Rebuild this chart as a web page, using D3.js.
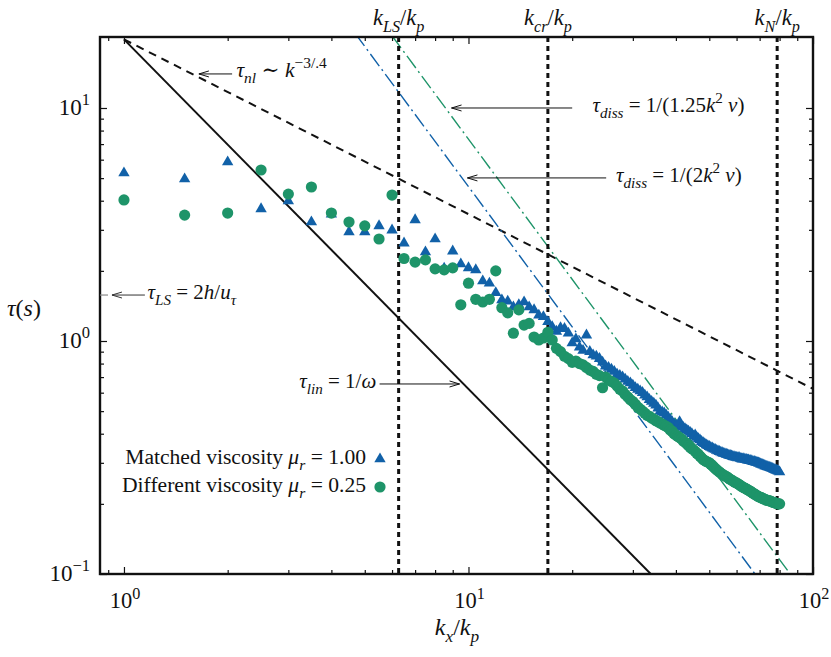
<!DOCTYPE html>
<html lang="en">
<head>
<meta charset="UTF-8">
<title>Timescales vs wavenumber</title>
<style>
  body { margin: 0; background: #fff; }
</style>
</head>
<body>
<div id="chart"></div>
<script src="https://d3js.org/d3.v7.min.js"></script>
<script>
// wavenumber k_x/k_p of every sample
const kx = [
  1, 1.5, 2, 2.5, 3, 3.5, 4, 4.5, 5, 5.5,
  6, 6.5, 7, 7.5, 8, 8.5, 9, 9.5, 10, 10.5,
  11, 11.5, 12, 12.5, 13, 13.5, 14, 14.5, 15, 15.5,
  16, 16.5, 17, 17.5, 18, 18.5, 19, 19.5, 20, 20.5,
  21, 21.5, 22, 22.5, 23, 23.5, 24, 24.5, 25, 25.5,
  26, 26.5, 27, 27.5, 28, 28.5, 29, 29.5, 30, 30.5,
  31, 31.5, 32, 32.5, 33, 33.5, 34, 34.5, 35, 35.5,
  36, 36.5, 37, 37.5, 38, 38.5, 39, 39.5, 40, 40.5,
  41, 41.5, 42, 42.5, 43, 43.5, 44, 44.5, 45, 45.5,
  46, 46.5, 47, 47.5, 48, 48.5, 49, 49.5, 50, 50.5,
  51, 51.5, 52, 52.5, 53, 53.5, 54, 54.5, 55, 55.5,
  56, 56.5, 57, 57.5, 58, 58.5, 59, 59.5, 60, 60.5,
  61, 61.5, 62, 62.5, 63, 63.5, 64, 64.5, 65, 65.5,
  66, 66.5, 67, 67.5, 68, 68.5, 69, 69.5, 70, 70.5,
  71, 71.5, 72, 72.5, 73, 73.5, 74, 74.5, 75, 75.5,
  76, 76.5, 77, 77.5, 78, 78.5, 79, 79.5, 80
];

// tau (s), matched viscosity mu_r = 1.00 (triangles)
const tauMatched = [
  5.26, 4.96, 5.86, 3.69, 3.99, 3.24, 3.50, 2.94, 2.94, 3.12,
  2.99, 2.63, 3.31, 2.41, 2.74, 2.05, 2.43, 2.14, 2.06, 2.02,
  1.81, 1.77, 1.61, 1.50, 1.48, 1.40, 1.43, 1.47, 1.40, 1.36,
  1.29, 1.27, 1.21, 1.15, 1.10, 1.14, 1.13, 1.08, 0.98, 1.02,
  0.94, 0.91, 1.06, 0.90, 0.87, 0.86, 0.84, 0.81, 0.78, 0.77,
  0.755, 0.74, 0.72, 0.71, 0.70, 0.685, 0.67, 0.66, 0.645, 0.63,
  0.62, 0.61, 0.60, 0.585, 0.575, 0.56, 0.55, 0.54, 0.53, 0.515,
  0.50, 0.495, 0.49, 0.48, 0.47, 0.46, 0.45, 0.44, 0.435, 0.43,
  0.45, 0.43, 0.425, 0.42, 0.415, 0.41, 0.405, 0.40, 0.39, 0.395,
  0.385, 0.38, 0.376, 0.37, 0.366, 0.362, 0.358, 0.355, 0.352, 0.349,
  0.347, 0.344, 0.342, 0.339, 0.337, 0.335, 0.333, 0.331, 0.329, 0.328,
  0.326, 0.325, 0.323, 0.322, 0.321, 0.319, 0.318, 0.317, 0.316, 0.315,
  0.316, 0.313, 0.312, 0.311, 0.312, 0.310, 0.310, 0.308, 0.308, 0.306,
  0.307, 0.305, 0.303, 0.304, 0.302, 0.301, 0.300, 0.299, 0.298, 0.296,
  0.295, 0.294, 0.293, 0.291, 0.290, 0.289, 0.288, 0.287, 0.286, 0.285,
  0.284, 0.283, 0.281, 0.280, 0.279, 0.278, 0.277, 0.276, 0.274
];

// tau (s), different viscosity mu_r = 0.25 (circles)
const tauDifferent = [
  4.03, 3.47, 3.54, 5.42, 4.27, 4.58, 3.54, 3.24, 3.12, 2.74,
  4.23, 2.26, 2.18, 2.23, 2.04, 2.02, 2.06, 1.43, 1.77, 1.51,
  1.47, 1.51, 2.00, 1.39, 1.32, 1.08, 1.36, 1.17, 1.19, 1.04,
  1.01, 1.03, 1.09, 1.01, 0.93, 0.90, 0.86, 0.84, 0.81, 0.82,
  0.80, 0.79, 0.77, 0.75, 0.74, 0.72, 0.71, 0.63, 0.70, 0.68,
  0.67, 0.66, 0.64, 0.62, 0.61, 0.59, 0.575, 0.56, 0.55, 0.535,
  0.52, 0.51, 0.50, 0.49, 0.48, 0.475, 0.467, 0.462, 0.455, 0.45,
  0.445, 0.44, 0.435, 0.43, 0.425, 0.415, 0.41, 0.40, 0.395, 0.39,
  0.385, 0.38, 0.372, 0.368, 0.362, 0.356, 0.35, 0.345, 0.341, 0.336,
  0.33, 0.326, 0.32, 0.315, 0.31, 0.307, 0.304, 0.302, 0.30, 0.296,
  0.292, 0.288, 0.284, 0.28, 0.277, 0.274, 0.271, 0.268, 0.266, 0.264,
  0.262, 0.26, 0.257, 0.255, 0.253, 0.251, 0.249, 0.247, 0.246, 0.244,
  0.242, 0.240, 0.238, 0.236, 0.235, 0.233, 0.232, 0.230, 0.229, 0.227,
  0.226, 0.224, 0.222, 0.221, 0.219, 0.218, 0.216, 0.215, 0.214, 0.213,
  0.212, 0.211, 0.210, 0.209, 0.208, 0.207, 0.207, 0.206, 0.206, 0.205,
  0.204, 0.203, 0.203, 0.202, 0.201, 0.201, 0.200, 0.200, 0.200
];

// characteristic wavenumbers (vertical dotted lines)
const kMarks = [6.27, 17.0, 78.7];
const kMarkNames = ['LS', 'cr', 'N'];

// guide lines, end points [k, tau]
const tauLin = [[1, 19.7], [35, 0.095]];
const tauNl = [[1, 19.7], [100, 0.623]];
const tauDiss2 = [[4.7, 20.8], [70, 0.094]];
const tauDiss125 = [[6, 20.4], [90, 0.091]];
const tauLS = 1.575;

// ticks
const xTicks = [0.9, 1, 2, 3, 4, 5, 6, 7, 8, 9, 10, 20, 30, 40, 50, 60, 70, 80, 90, 100];
const xMajor = [1, 10, 100];
const xMajorExp = ['0', '1', '2'];
const yTicks = [0.1, 0.2, 0.3, 0.4, 0.5, 0.6, 0.7, 0.8, 0.9, 1, 2, 3, 4, 5, 6, 7, 8, 9, 10];
const yMajor = [0.1, 1, 10];
const yMajorExp = ['\u22121', '0', '1'];

const blue = '#1161a8';
const green = '#1e9469';
const FONT = '"Liberation Serif", "DejaVu Serif", "Times New Roman", serif';

const W = 831, H = 657;
const m = { left: 100, top: 37, right: 18, bottom: 83 };
const FS = 21;

const svg = d3.select('#chart').append('svg')
    .attr('width', W)
    .attr('height', H)
    .style('background', '#fff');

const x = d3.scaleLog().domain([0.852, 100]).range([m.left, W - m.right]);
const y = d3.scaleLog().domain([0.1, 20.17]).range([H - m.bottom, m.top]);

function txt(px, py, anchor) {
  return svg.append('text')
      .attr('x', px).attr('y', py)
      .attr('text-anchor', anchor || 'start')
      .attr('font-family', FONT)
      .attr('fill', '#111')
      .style('white-space', 'pre');
}

// rich text: parts {t, i (italic), sub, sup}
function rich(el, parts, size) {
  let shift = 0;
  parts.forEach(p => {
    const target = p.sub ? size * 0.3 : p.sup ? -size * 0.42 : 0;
    el.append('tspan')
        .attr('dy', target - shift)
        .attr('font-size', (p.sub || p.sup ? size * 0.72 : size))
        .attr('font-style', p.i ? 'italic' : 'normal')
        .text(p.t);
    shift = target;
  });
  return el;
}

svg.append('defs').append('clipPath').attr('id', 'plotClip')
  .append('rect')
    .attr('x', m.left).attr('y', m.top)
    .attr('width', W - m.left - m.right).attr('height', H - m.top - m.bottom);

const plot = svg.append('g').attr('clip-path', 'url(#plotClip)');
const line = d3.line().x(d => x(d[0])).y(d => y(d[1]));

// guide lines
plot.append('path').datum(tauNl).attr('d', line)
    .attr('fill', 'none').attr('stroke', '#111').attr('stroke-width', 2).attr('stroke-dasharray', '8,6');
plot.append('path').datum(tauLin).attr('d', line)
    .attr('fill', 'none').attr('stroke', '#111').attr('stroke-width', 2);
plot.append('path').datum(tauDiss2).attr('d', line)
    .attr('fill', 'none').attr('stroke', blue).attr('stroke-width', 1.4).attr('stroke-dasharray', '15,4,2,4');
plot.append('path').datum(tauDiss125).attr('d', line)
    .attr('fill', 'none').attr('stroke', green).attr('stroke-width', 1.4).attr('stroke-dasharray', '15,4,2,4');

// vertical dotted lines
plot.selectAll('line.kmark')
  .data(kMarks)
  .enter()
  .append('line')
    .attr('class', 'kmark')
    .attr('x1', d => x(d)).attr('x2', d => x(d))
    .attr('y1', m.top).attr('y2', H - m.bottom)
    .attr('stroke', '#111').attr('stroke-width', 3).attr('stroke-dasharray', '5,4');

kMarks.forEach((k, i) => {
  rich(txt(x(k), 25, 'middle'),
    [{ t: 'k', i: true }, { t: kMarkNames[i], sub: true, i: true }, { t: '/' }, { t: 'k', i: true }, { t: 'p', sub: true, i: true }], 22.5);
});

// data points
const matched = kx.map((k, i) => [k, tauMatched[i]]);
const different = kx.map((k, i) => [k, tauDifferent[i]]);

svg.append('g').selectAll('path')
  .data(matched)
  .enter()
  .append('path')
    .attr('d', d3.symbol(d3.symbolTriangle, 56))
    .attr('transform', d => `translate(${x(d[0])},${y(d[1])})`)
    .attr('fill', blue);

svg.append('g').selectAll('circle')
  .data(different)
  .enter()
  .append('circle')
    .attr('cx', d => x(d[0]))
    .attr('cy', d => y(d[1]))
    .attr('r', 5.6)
    .attr('fill', green);

// axes, ticks pointing inward on all four sides
function frameAxis(make, ticks, majors, at, attr, sign, scale) {
  svg.append('g').attr('transform', at)
      .call(make(scale).tickValues(ticks).tickFormat(() => '').tickSizeOuter(0))
      .call(g => g.select('.domain').remove())
      .call(g => g.selectAll('.tick line')
        .attr(attr, d => sign * (majors.includes(d) ? 7 : 4))
        .attr('stroke', '#111').attr('stroke-width', 1.2));
}
frameAxis(d3.axisBottom, xTicks, xMajor, `translate(0,${H - m.bottom})`, 'y2', -1, x);
frameAxis(d3.axisTop, xTicks, xMajor, `translate(0,${m.top})`, 'y2', 1, x);
frameAxis(d3.axisLeft, yTicks, yMajor, `translate(${m.left},0)`, 'x2', 1, y);
frameAxis(d3.axisRight, yTicks, yMajor, `translate(${W - m.right},0)`, 'x2', -1, y);

svg.append('rect')
    .attr('x', m.left).attr('y', m.top)
    .attr('width', W - m.left - m.right).attr('height', H - m.top - m.bottom)
    .attr('fill', 'none').attr('stroke', '#111').attr('stroke-width', 2.4);

xMajor.forEach((v, i) => {
  rich(txt(x(v) + 1, H - m.bottom + 34, 'middle'),
    [{ t: '10' }, { t: xMajorExp[i], sup: true }], 22.5);
});
yMajor.forEach((v, i) => {
  rich(txt(m.left - 10, y(v) + 7, 'end'),
    [{ t: '10' }, { t: yMajorExp[i], sup: true }], 23);
});

// axis titles
rich(txt(457, 635, 'middle'),
  [{ t: 'k', i: true }, { t: 'x', sub: true, i: true }, { t: '/' }, { t: 'k', i: true }, { t: 'p', sub: true, i: true }], 24);
rich(txt(7, 316),
  [{ t: '\u03c4', i: true }, { t: '(' }, { t: 's', i: true }, { t: ')' }], 24);

// annotation arrows (tail -> tip, horizontal)
function arrow(k1, k2, tau, color) {
  const x1 = x(k1), x2 = x(k2), yy = y(tau);
  const dir = x2 < x1 ? 1 : -1;
  svg.append('path')
      .attr('d', `M${x1},${yy}L${x2},${yy}M${x2 + dir * 10},${yy - 3}L${x2},${yy}L${x2 + dir * 10},${yy + 3}`)
      .attr('fill', 'none').attr('stroke', color || '#111').attr('stroke-width', 1);
}

arrow(2.06, 1.65, 14.0);
rich(txt(x(2.12), y(14.0) + 3),
  [{ t: '\u03c4', i: true }, { t: 'nl', sub: true, i: true }, { t: ' \u223c ' }, { t: 'k', i: true }, { t: '\u22123/.4', sup: true }], 21.5);

arrow(20.0, 8.93, 10.0);
rich(txt(x(22.9), y(10.0) + 4),
  [{ t: '\u03c4', i: true }, { t: 'diss', sub: true, i: true }, { t: ' = 1/(1.25' }, { t: 'k', i: true }, { t: '2', sup: true },
   { t: ' ' }, { t: '\u03bd', i: true }, { t: ')' }], FS);

arrow(25.1, 9.93, 5.01);
rich(txt(x(26.8), y(5.01) + 4),
  [{ t: '\u03c4', i: true }, { t: 'diss', sub: true, i: true }, { t: ' = 1/(2' }, { t: 'k', i: true }, { t: '2', sup: true },
   { t: ' ' }, { t: '\u03bd', i: true }, { t: ')' }], FS);

arrow(5.52, 9.42, 0.654);
rich(txt(x(5.4), y(0.654) + 4, 'end'),
  [{ t: '\u03c4', i: true }, { t: 'lin', sub: true, i: true }, { t: ' = 1/' }, { t: '\u03c9', i: true }], FS);

svg.append('line')
    .attr('x1', m.left).attr('x2', m.left + 8)
    .attr('y1', y(tauLS)).attr('y2', y(tauLS))
    .attr('stroke', '#888').attr('stroke-width', 1.2);
arrow(1.15, 0.923, tauLS, '#333');
rich(txt(x(1.17), y(tauLS) + 4),
  [{ t: '\u03c4', i: true }, { t: 'LS', sub: true, i: true }, { t: ' = 2' }, { t: 'h', i: true }, { t: '/' },
   { t: 'u', i: true }, { t: '\u03c4', sub: true, i: true }], FS);

// legend
const legendRows = [
  { label: 'Matched viscosity ', val: ' = 1.00', color: blue, shape: 'tri' },
  { label: 'Different viscosity ', val: ' = 0.25', color: green, shape: 'circ' }
];
legendRows.forEach((r, i) => {
  const ly = 459 + i * 28;
  rich(txt(366, ly + 5, 'end'),
    [{ t: r.label }, { t: '\u03bc', i: true }, { t: 'r', sub: true, i: true }, { t: r.val }], 21.6);
  if (r.shape === 'tri') {
    svg.append('path').attr('d', d3.symbol(d3.symbolTriangle, 56))
        .attr('transform', `translate(380,${ly})`).attr('fill', r.color);
  } else {
    svg.append('circle').attr('cx', 380).attr('cy', ly).attr('r', 5.6).attr('fill', r.color);
  }
});
</script>
</body>
</html>
